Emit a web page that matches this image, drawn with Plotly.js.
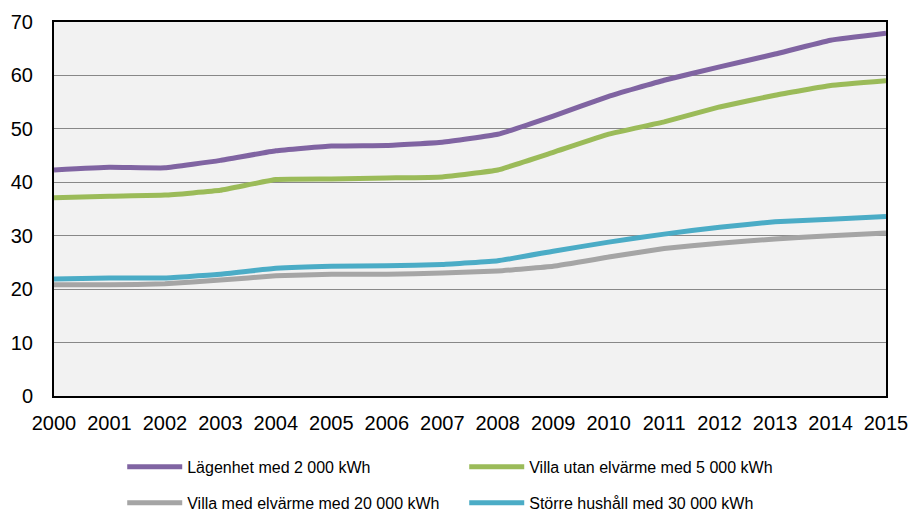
<!DOCTYPE html>
<html>
<head>
<meta charset="utf-8">
<script src="https://cdn.plot.ly/plotly-3.0.1.min.js"></script>
<style>
  body { margin: 0; background: #fff; }
  #chart { width: 912px; height: 512px; }
</style>
</head>
<body>
<div id="chart"></div>
<script>
// years on the x axis
var years = [2000, 2001, 2002, 2003, 2004, 2005, 2006, 2007,
             2008, 2009, 2010, 2011, 2012, 2013, 2014, 2015];

// series values
var lagenhet = [42.3, 42.8, 42.7, 44.1, 45.9, 46.8, 46.9, 47.5,
                49.0, 52.4, 56.1, 59.1, 61.6, 64.0, 66.6, 67.9];
var villaUtan = [37.1, 37.4, 37.6, 38.5, 40.5, 40.6, 40.8, 41.0,
                 42.3, 45.6, 49.0, 51.3, 54.1, 56.3, 58.1, 59.0];
var villaMed = [20.8, 20.8, 21.0, 21.7, 22.5, 22.8, 22.8, 23.0,
                23.4, 24.3, 26.0, 27.6, 28.6, 29.4, 30.0, 30.5];
var storre = [21.9, 22.1, 22.1, 22.8, 23.9, 24.3, 24.4, 24.6,
              25.3, 27.1, 28.8, 30.3, 31.6, 32.6, 33.1, 33.6];

var names = ["Lägenhet med 2 000 kWh", "Villa utan elvärme med 5 000 kWh",
             "Villa med elvärme med 20 000 kWh", "Större hushåll med 30 000 kWh"];

function makeTrace(y, name, color, legend) {
    return {
        x: years,
        y: y,
        name: name,
        type: "scatter",
        mode: "lines",
        line: { color: color, width: 5, shape: "spline", smoothing: 0.3 },
        legend: legend,
    };
}

var data = [
    makeTrace(lagenhet, names[0], "#8064A2", "legend"),
    makeTrace(villaUtan, names[1], "#9BBB59", "legend"),
    makeTrace(villaMed, names[2], "#A5A5A5", "legend2"),
    makeTrace(storre, names[3], "#4BACC6", "legend2"),
];

var legendStyle = {
    orientation: "h",
    xanchor: "left",
    yanchor: "middle",
    x: 0.082,
    yref: "container",
    font: { family: "Liberation Sans, Arial, sans-serif", size: 16, color: "#000" },
    bgcolor: "rgba(0,0,0,0)",
    entrywidth: 272,
    entrywidthmode: "pixels",
    itemwidth: 55,
};

var layout = {
    width: 912,
    height: 512,
    margin: { l: 54, r: 26, t: 22, b: 116, pad: 0 },
    paper_bgcolor: "#ffffff",
    plot_bgcolor: "#F2F2F2",
    font: { family: "Liberation Sans, Arial, sans-serif", size: 20, color: "#000" },
    showlegend: true,
    xaxis: {
        range: [2000, 2015],
        tickmode: "array",
        tickvals: years,
        ticktext: years.map(String),
        showgrid: false,
        zeroline: false,
        showline: true,
        linecolor: "#000",
        linewidth: 2,
        mirror: true,
        ticks: "",
        ticklabelstandoff: 8,
        tickfont: { size: 20 },
        automargin: false,
    },
    yaxis: {
        range: [0, 70],
        dtick: 10,
        showgrid: true,
        gridcolor: "#888888",
        gridwidth: 1,
        zeroline: false,
        showline: true,
        linecolor: "#000",
        linewidth: 2,
        mirror: true,
        ticks: "",
        ticklabelstandoff: 15,
        tickfont: { size: 20 },
        automargin: false,
    },
    legend: Object.assign({}, legendStyle, { y: 0.088 }),
    legend2: Object.assign({}, legendStyle, { y: 0.018 }),
};

Plotly.newPlot("chart", data, layout, { staticPlot: true });
</script>
</body>
</html>
